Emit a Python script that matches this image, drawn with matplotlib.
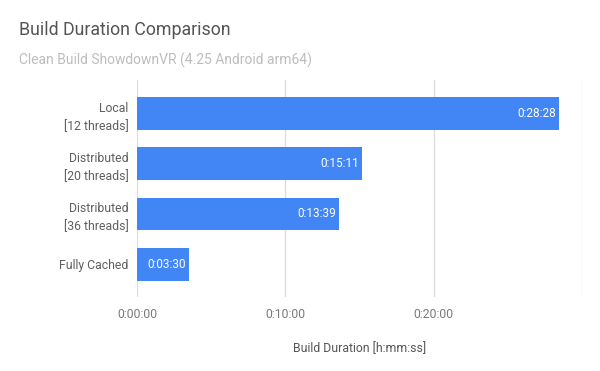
import matplotlib.pyplot as plt
from matplotlib.ticker import FuncFormatter

plt.rcParams['font.family'] = ['Roboto', 'DejaVu Sans']

categories = ['Local\n[12 threads]', 'Distributed\n[20 threads]',
              'Distributed\n[36 threads]', 'Fully Cached']
durations = [1708, 911, 819, 210]  # seconds
value_labels = ['0:28:28', '0:15:11', '0:13:39', '0:03:30']
x_ticks = [0, 600, 1200, 1800]


def hms(s, pos=None):
    s = int(round(s))
    return '%d:%02d:%02d' % (s // 3600, (s % 3600) // 60, s % 60)


fig = plt.figure(figsize=(6, 3.71), dpi=100)
ax = fig.add_axes([0.2283, 0.1995, 0.97 - 0.2283, 0.7844 - 0.1995])

ypos = list(range(len(categories)))
ax.barh(ypos, durations, height=0.65, color='#4285F4', zorder=2)

for y, v, lab in zip(ypos, durations, value_labels):
    ax.text(v - 12, y, lab, color='white', fontsize=8.5,
            ha='right', va='center', zorder=3)

ax.set_xlim(0, 1800)
ax.set_ylim(3.65, -0.66)
ax.set_xticks(x_ticks)
ax.xaxis.set_major_formatter(FuncFormatter(lambda s, p: '' if s >= 1800 else hms(s)))
ax.set_yticks(ypos)
ax.set_yticklabels(categories, fontsize=8.8, color='#5f5f5f', ha='right',
                   linespacing=1.5)
ax.tick_params(axis='x', length=0, labelsize=8.8, labelcolor='#7a7a7a', pad=8)
ax.tick_params(axis='y', length=0, pad=6)
ax.grid(axis='x', color='#dddddd', linewidth=1, zorder=0)
for sp in ax.spines.values():
    sp.set_visible(False)

ax.set_xlabel('Build Duration [h:mm:ss]', fontsize=8.8, color='#555555',
              labelpad=15)

fig.text(19 / 600, 1 - 30 / 371, 'Build Duration Comparison', fontsize=12.8,
         color='#555555', ha='left', va='center')
fig.text(19 / 600, 1 - 60 / 371, 'Clean Build ShowdownVR (4.25 Android arm64)',
         fontsize=10, color='#bdbdbd', ha='left', va='center')

fig.savefig('out.png', dpi=100, facecolor='white')
